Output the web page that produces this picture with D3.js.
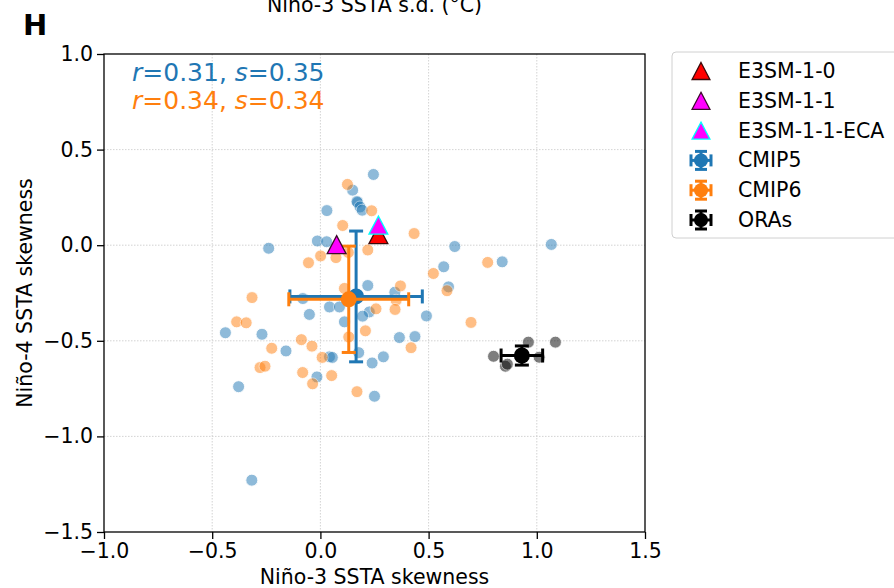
<!DOCTYPE html>
<html>
<head>
<meta charset="utf-8">
<script src="https://cdn.jsdelivr.net/npm/d3@7/dist/d3.min.js"></script>
<style>
  html, body { margin: 0; padding: 0; background: #fff; }
  svg { display: block; font-family: "DejaVu Sans", sans-serif; }
</style>
</head>
<body>
<svg id="chart" width="894" height="588"></svg>
<script>
// Niño-3 vs Niño-4 SSTA skewness for individual models and reanalyses
const cmip5X = [0.245, 0.149, 0.172, 0.169, 0.183, 0.193, 0.030, -0.014, 0.029, -0.239,
  0.621, 1.067, 0.840, 0.570, 0.592, 0.219, 0.344, -0.081, 0.042, 0.088,
  0.226, 0.195, -0.051, 0.490, 0.111, -0.439, -0.270, 0.365, 0.437, -0.159,
  0.177, 0.042, 0.055, 0.291, 0.239, -0.016, -0.378, 0.250, -0.317];
const cmip5Y = [0.370, 0.288, 0.223, 0.228, 0.200, 0.183, 0.181, 0.022, 0.018, -0.016,
  -0.007, 0.004, -0.087, -0.113, -0.218, -0.211, -0.246, -0.279, -0.323, -0.323,
  -0.349, -0.371, -0.362, -0.370, -0.401, -0.458, -0.466, -0.483, -0.478, -0.553,
  -0.562, -0.584, -0.587, -0.584, -0.616, -0.689, -0.740, -0.790, -1.229];

const cmip6X = [0.125, 0.237, 0.103, 0.433, 0.219, 0.129, 0.001, 0.072, -0.055, 0.773,
  0.522, 0.111, 0.370, 0.585, -0.316, 0.350, 0.257, 0.345, -0.387, -0.343,
  0.696, 0.208, 0.131, -0.088, -0.039, -0.225, 0.419, 0.008, -0.279, -0.256,
  -0.082, 0.052, -0.036, 0.169];
const cmip6Y = [0.318, 0.180, 0.103, 0.061, -0.025, -0.038, -0.056, -0.065, -0.092, -0.090,
  -0.148, -0.226, -0.213, -0.238, -0.274, -0.288, -0.333, -0.336, -0.401, -0.406,
  -0.404, -0.448, -0.480, -0.494, -0.528, -0.539, -0.536, -0.587, -0.640, -0.633,
  -0.666, -0.682, -0.725, -0.766];

const oraX = [0.800, 0.855, 0.864, 0.961, 1.086, 1.011];
const oraY = [-0.581, -0.633, -0.622, -0.507, -0.507, -0.586];

// E3SM members
const e3smNames = ["E3SM-1-0", "E3SM-1-1", "E3SM-1-1-ECA"];
const e3smX = [0.268, 0.075, 0.268];
const e3smY = [0.055, 0.003, 0.105];
const e3smFill = ["#ff0000", "#ff00ff", "#ff00ff"];
const e3smEdge = ["#3a0a0a", "#3a0a2a", "#00ffff"];

// Ensemble means with one standard deviation
const groupNames = ["CMIP5", "CMIP6", "ORAs"];
const groupColors = ["#1f77b4", "#ff7f0e", "#000000"];
const meanX = [0.165, 0.131, 0.931];
const meanY = [-0.268, -0.283, -0.577];
const sdX = [0.306, 0.277, 0.096];
const sdY = [0.342, 0.278, 0.050];

const xTicks = [-1.0, -0.5, 0.0, 0.5, 1.0, 1.5];
const yTicks = [1.0, 0.5, 0.0, -0.5, -1.0, -1.5];

const statsText = [
  { color: "#1f77b4", r: "0.31", s: "0.35" },
  { color: "#ff7f0e", r: "0.34", s: "0.34" }
];

const svg = d3.select("#chart");
const pL = 104, pR = 645, pT = 54, pB = 532;
const fs = 20.5;

const x = d3.scaleLinear().domain([-1.0, 1.5]).range([pL, pR]);
const y = d3.scaleLinear().domain([-1.5, 1.0]).range([pB, pT]);
const fmt = d => d3.format(".1f")(d).replace("-", "\u2212");

// grid
const grid = svg.append("g");
grid.selectAll("line.gx").data(xTicks.slice(1, -1)).join("line")
  .attr("x1", d => x(d)).attr("x2", d => x(d)).attr("y1", pT).attr("y2", pB)
  .attr("stroke", "#c8c8c8").attr("stroke-width", 0.8).attr("stroke-dasharray", "1.5,1.5");
grid.selectAll("line.gy").data(yTicks.slice(1, -1)).join("line")
  .attr("y1", d => y(d)).attr("y2", d => y(d)).attr("x1", pL).attr("x2", pR)
  .attr("stroke", "#c8c8c8").attr("stroke-width", 0.8).attr("stroke-dasharray", "1.5,1.5");

// axes
const xAxis = svg.append("g").attr("transform", `translate(0,${pB})`)
  .call(d3.axisBottom(x).tickValues(xTicks).tickFormat(fmt).tickSize(7).tickPadding(4));
const yAxis = svg.append("g").attr("transform", `translate(${pL},0)`)
  .call(d3.axisLeft(y).tickValues(yTicks).tickFormat(fmt).tickSize(7).tickPadding(4));
[xAxis, yAxis].forEach(a => {
  a.select(".domain").remove();
  a.selectAll("line").attr("stroke", "#000").attr("stroke-width", 1.3);
  a.selectAll("text").attr("font-size", fs).attr("fill", "#000")
    .attr("font-family", "DejaVu Sans");
});

// scatter of individual models
const pts = svg.append("g");
function scatter(xs, ys, color) {
  pts.append("g").selectAll("circle").data(xs.map((v, i) => [v, ys[i]])).join("circle")
    .attr("cx", d => x(d[0])).attr("cy", d => y(d[1])).attr("r", 6)
    .attr("fill", color).attr("stroke", "#fff").attr("stroke-width", 0.9)
    .attr("opacity", 0.5);
}
scatter(cmip5X, cmip5Y, "#1f77b4");
scatter(cmip6X, cmip6Y, "#ff7f0e");
scatter(oraX, oraY, "#000000");

// error bars
const cap = 7;
groupNames.forEach((name, i) => {
  const g = svg.append("g").attr("stroke", groupColors[i]).attr("stroke-width", 3)
    .attr("fill", groupColors[i]);
  const cx = x(meanX[i]), cy = y(meanY[i]);
  const x0 = x(meanX[i] - sdX[i]), x1 = x(meanX[i] + sdX[i]);
  const y0 = y(meanY[i] + sdY[i]), y1 = y(meanY[i] - sdY[i]);
  g.append("line").attr("x1", x0).attr("x2", x1).attr("y1", cy).attr("y2", cy);
  g.append("line").attr("x1", cx).attr("x2", cx).attr("y1", y0).attr("y2", y1);
  g.append("line").attr("x1", x0).attr("x2", x0).attr("y1", cy - cap).attr("y2", cy + cap);
  g.append("line").attr("x1", x1).attr("x2", x1).attr("y1", cy - cap).attr("y2", cy + cap);
  g.append("line").attr("x1", cx - cap).attr("x2", cx + cap).attr("y1", y0).attr("y2", y0);
  g.append("line").attr("x1", cx - cap).attr("x2", cx + cap).attr("y1", y1).attr("y2", y1);
  g.append("circle").attr("cx", cx).attr("cy", cy).attr("r", 8).attr("stroke", "none");
});

// E3SM triangles
const tri = (cx, cy, h) => {
  const w = h * 1.05;
  return `M${cx},${cy - h / 2}L${cx + w / 2},${cy + h / 2}L${cx - w / 2},${cy + h / 2}Z`;
};
e3smNames.forEach((n, i) => {
  svg.append("path").attr("d", tri(x(e3smX[i]), y(e3smY[i]), 18))
    .attr("fill", e3smFill[i]).attr("stroke", e3smEdge[i]).attr("stroke-width", 1.3);
});

// frame
svg.append("rect").attr("x", pL).attr("y", pT).attr("width", pR - pL)
  .attr("height", pB - pT).attr("fill", "none").attr("stroke", "#000").attr("stroke-width", 1.3);

// correlation / slope annotation
statsText.forEach((t, i) => {
  const tx = svg.append("text").attr("x", 132).attr("y", 80.5 + i * 28.5)
    .attr("font-size", 25).attr("fill", t.color);
  tx.append("tspan").attr("font-style", "italic").text("r");
  tx.append("tspan").text("=" + t.r + ", ");
  tx.append("tspan").attr("font-style", "italic").text("s");
  tx.append("tspan").text("=" + t.s);
});

// axis titles
svg.append("text").attr("x", (pL + pR) / 2).attr("y", 584).attr("text-anchor", "middle")
  .attr("font-size", fs).text("Niño-3 SSTA skewness");
svg.append("text").attr("transform", `translate(32,${(pT + pB) / 2}) rotate(-90)`)
  .attr("text-anchor", "middle").attr("font-size", fs).text("Niño-4 SSTA skewness");
svg.append("text").attr("x", (pL + pR) / 2).attr("y", 12).attr("text-anchor", "middle")
  .attr("font-size", fs).text("Niño-3 SSTA s.d. (°C)");
svg.append("text").attr("x", 23).attr("y", 35).attr("font-size", 29)
  .attr("font-weight", "bold").text("H");

// legend
const lg = svg.append("g");
lg.append("rect").attr("x", 672).attr("y", 52).attr("width", 240).attr("height", 186)
  .attr("rx", 4).attr("fill", "#fff").attr("fill-opacity", 0.8)
  .attr("stroke", "#d0d0d0").attr("stroke-width", 1);
const rowY = i => 71 + i * 29.8;
e3smNames.forEach((n, i) => {
  lg.append("path").attr("d", tri(701, rowY(i), 17))
    .attr("fill", e3smFill[i]).attr("stroke", e3smEdge[i]).attr("stroke-width", 1.3);
  lg.append("text").attr("x", 738).attr("y", rowY(i) + 7).attr("font-size", fs).text(n);
});
groupNames.forEach((n, j) => {
  const i = j + 3, cy = rowY(i), c = groupColors[j];
  const g = lg.append("g").attr("stroke", c).attr("stroke-width", 3).attr("fill", c);
  g.append("line").attr("x1", 691).attr("x2", 711).attr("y1", cy).attr("y2", cy);
  g.append("line").attr("x1", 701).attr("x2", 701).attr("y1", cy - 9).attr("y2", cy + 9);
  g.append("line").attr("x1", 691).attr("x2", 691).attr("y1", cy - 6).attr("y2", cy + 6);
  g.append("line").attr("x1", 711).attr("x2", 711).attr("y1", cy - 6).attr("y2", cy + 6);
  g.append("line").attr("x1", 695).attr("x2", 707).attr("y1", cy - 9).attr("y2", cy - 9);
  g.append("line").attr("x1", 695).attr("x2", 707).attr("y1", cy + 9).attr("y2", cy + 9);
  g.append("circle").attr("cx", 701).attr("cy", cy).attr("r", 7).attr("stroke", "none");
  lg.append("text").attr("x", 738).attr("y", cy + 7).attr("font-size", fs).text(n);
});
</script>
</body>
</html>
